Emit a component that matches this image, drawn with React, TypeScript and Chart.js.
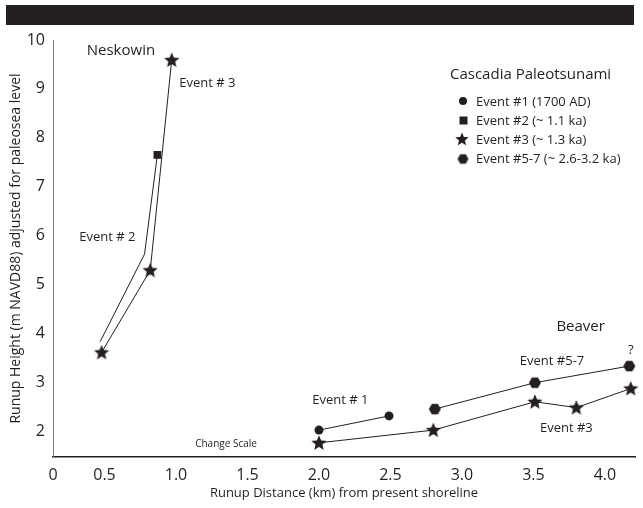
import React, { useEffect, useRef } from "react";
import { Chart, registerables } from "chart.js";

Chart.register(...registerables);

const INK = "#231f20";
const FONT = "'Open Sans', 'DejaVu Sans', sans-serif";

// Neskowin site
const neskowinEvent3X = [0.48, 0.82, 0.97];
const neskowinEvent3Y = [3.61, 5.29, 9.59];
const neskowinEvent2X = [0.47, 0.78, 0.87];
const neskowinEvent2Y = [3.83, 5.62, 7.65];

// Beaver site
const beaverEvent1X = [2.0, 2.49];
const beaverEvent1Y = [2.02, 2.31];
const beaverEvent57X = [2.81, 3.51, 4.17];
const beaverEvent57Y = [2.45, 2.99, 3.33];
const beaverEvent3X = [2.0, 2.8, 3.51, 3.8, 4.18];
const beaverEvent3Y = [1.76, 2.02, 2.6, 2.48, 2.87];

// axes (the x axis is broken: its left end is labelled "0")
const xAxisStart = 0.14;
const xAxisEnd = 4.21;
const yAxisStart = 1.47;
const yAxisEnd = 10;
const xTickValues = [xAxisStart, 0.5, 1.0, 1.5, 2.0, 2.5, 3.0, 3.5, 4.0];
const xTickLabels = ["0", "0.5", "1.0", "1.5", "2.0", "2.5", "3.0", "3.5", "4.0"];
const yTickValues = [2, 3, 4, 5, 6, 7, 8, 9, 10];

const xTitle = "Runup Distance (km) from present shoreline";
const yTitle = "Runup Height (m NAVD88) adjusted for paleosea level";

const legendTitle = "Cascadia Paleotsunami";
const legendItems = ["Event #1 (1700 AD)", "Event #2 (~ 1.1 ka)", "Event #3 (~ 1.3 ka)", "Event #5-7 (~ 2.6-3.2 ka)"];

// text annotations placed in data coordinates
const noteTexts = ["Neskowin", "Event # 3", "Event # 2", "Change Scale", "Event # 1", "Beaver", "Event #5-7", "?", "Event #3"];
const noteX = [0.615, 1.22, 0.52, 1.35, 2.15, 3.83, 3.63, 4.18, 3.73];
const noteY = [9.78, 9.12, 5.96, 1.73, 2.63, 4.14, 3.43, 3.65, 2.06];
const noteSizes = [15, 13, 13, 10, 13, 15, 13, 13, 13];

function makeStar(r: number) {
  const c = document.createElement("canvas");
  const s = Math.ceil(r * 2 + 2);
  c.width = s;
  c.height = s;
  const ctx = c.getContext("2d")!;
  ctx.translate(s / 2, s / 2 + 0.5);
  ctx.beginPath();
  for (let i = 0; i < 10; i++) {
    const rad = i % 2 ? r * 0.45 : r;
    const a = -Math.PI / 2 + (i * Math.PI) / 5;
    ctx.lineTo(rad * Math.cos(a), rad * Math.sin(a));
  }
  ctx.closePath();
  ctx.fillStyle = INK;
  ctx.fill();
  return c;
}

function makeHex(r: number) {
  const c = document.createElement("canvas");
  const s = Math.ceil(r * 2 + 2);
  c.width = s;
  c.height = s;
  const ctx = c.getContext("2d")!;
  ctx.translate(s / 2, s / 2);
  ctx.beginPath();
  for (let i = 0; i < 6; i++) {
    const a = (i * Math.PI) / 3;
    ctx.lineTo(r * Math.cos(a), r * Math.sin(a));
  }
  ctx.closePath();
  ctx.fillStyle = INK;
  ctx.fill();
  return c;
}

function toPts(xs: number[], ys: number[]) {
  return xs.map((x, i) => ({ x, y: ys[i] }));
}

export default function App() {
  const ref = useRef<HTMLCanvasElement>(null);

  useEffect(() => {
    if (!ref.current) return;
    const star = makeStar(8);
    const hex = makeHex(6);
    const legendStar = makeStar(7);
    const legendHex = makeHex(5.5);

    const base = {
      borderColor: INK,
      borderWidth: 1,
      backgroundColor: INK,
      pointBackgroundColor: INK,
      pointBorderColor: INK,
      pointBorderWidth: 0,
      showLine: true,
      tension: 0,
      clip: false as any,
    };

    const frame = {
      id: "frame",
      beforeDraw(chart: any) {
        const { ctx } = chart;
        ctx.save();
        ctx.fillStyle = "#ffffff";
        ctx.fillRect(0, 0, chart.width, chart.height);
        ctx.fillStyle = INK;
        ctx.fillRect(6, 5, 628, 20);
        ctx.restore();
      },
      afterDatasetsDraw(chart: any) {
        const { ctx, scales } = chart;
        ctx.save();
        ctx.fillStyle = INK;
        ctx.textAlign = "center";
        ctx.textBaseline = "middle";
        noteTexts.forEach((t, i) => {
          ctx.font = `${noteSizes[i]}px ${FONT}`;
          ctx.fillText(t, scales.x.getPixelForValue(noteX[i]), scales.y.getPixelForValue(noteY[i]));
        });
        // legend
        ctx.textAlign = "left";
        ctx.font = `15px ${FONT}`;
        ctx.fillText(legendTitle, 450, 75);
        ctx.font = `13px ${FONT}`;
        const rows = [102, 121, 140, 159];
        legendItems.forEach((t, i) => {
          ctx.fillText(t, 476, rows[i]);
        });
        ctx.beginPath();
        ctx.arc(463, rows[0] - 1, 4, 0, Math.PI * 2);
        ctx.fill();
        ctx.fillRect(459.5, rows[1] - 4.5, 8, 8);
        ctx.drawImage(legendStar, 462 - legendStar.width / 2, rows[2] - 1 - legendStar.height / 2);
        ctx.drawImage(legendHex, 463 - legendHex.width / 2, rows[3] - legendHex.height / 2);
        ctx.restore();
      },
    };

    const chart = new Chart(ref.current, {
      type: "scatter",
      data: {
        datasets: [
          { ...base, label: "Neskowin Event #3", data: toPts(neskowinEvent3X, neskowinEvent3Y), pointStyle: star as any, pointRadius: 8 },
          {
            ...base,
            label: "Neskowin Event #2",
            data: toPts(neskowinEvent2X, neskowinEvent2Y),
            pointStyle: "rect",
            pointRadius: [0, 0, 5.5],
          },
          { ...base, label: "Beaver Event #1", data: toPts(beaverEvent1X, beaverEvent1Y), pointStyle: "circle", pointRadius: 4.5 },
          { ...base, label: "Beaver Event #5-7", data: toPts(beaverEvent57X, beaverEvent57Y), pointStyle: hex as any, pointRadius: 6 },
          { ...base, label: "Beaver Event #3", data: toPts(beaverEvent3X, beaverEvent3Y), pointStyle: star as any, pointRadius: 8 },
        ] as any,
      },
      options: {
        animation: false,
        responsive: false,
        devicePixelRatio: 1,
        events: [],
        layout: { padding: { top: 40, right: 0, left: 0, bottom: 0 } },
        plugins: { legend: { display: false }, tooltip: { enabled: false } },
        scales: {
          x: {
            type: "linear",
            min: xAxisStart,
            max: xAxisEnd,
            grid: { display: false, drawTicks: false },
            border: { display: true, color: INK, width: 1.5 },
            afterBuildTicks: (s: any) => {
              s.ticks = xTickValues.map((v) => ({ value: v }));
            },
            afterFit: (s: any) => {
              s.height = 51;
            },
            ticks: {
              color: INK,
              font: { family: FONT, size: 16 },
              padding: 9,
              maxRotation: 0,
              autoSkip: false,
              callback: (_v: any, i: number) => xTickLabels[i],
            },
            title: {
              display: true,
              text: xTitle,
              color: INK,
              font: { family: FONT, size: 13 },
              padding: { top: 0, bottom: 7 },
            },
          },
          y: {
            type: "linear",
            min: yAxisStart,
            max: yAxisEnd,
            grid: { display: false, drawTicks: false },
            border: { display: true, color: "#808080", width: 1 },
            afterBuildTicks: (s: any) => {
              s.ticks = yTickValues.map((v) => ({ value: v }));
            },
            afterFit: (s: any) => {
              s.width = 53;
            },
            ticks: {
              color: INK,
              font: { family: FONT, size: 16 },
              padding: 8,
              autoSkip: false,
              callback: (v: any) => String(v),
            },
            title: {
              display: true,
              text: yTitle,
              color: INK,
              font: { family: FONT, size: 14 },
              padding: { top: 8, bottom: 0 },
            },
          },
        },
      },
      plugins: [frame],
    });
    return () => chart.destroy();
  }, []);

  return (
    <div style={{ position: "absolute", left: 0, top: 0, width: 643, height: 508, background: "#fff" }}>
      <canvas ref={ref} width={643} height={508} style={{ display: "block", width: 643, height: 508 }} />
    </div>
  );
}
